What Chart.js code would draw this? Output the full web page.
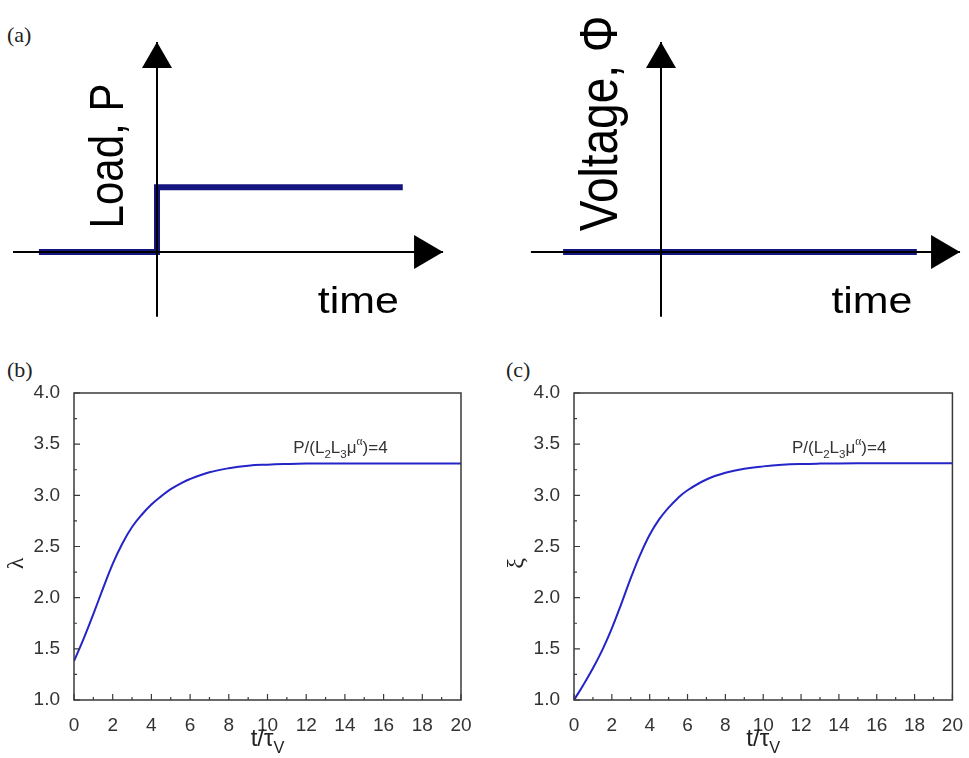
<!DOCTYPE html>
<html>
<head>
<meta charset="utf-8">
<script src="https://cdn.jsdelivr.net/npm/chart.js@4.4.0/dist/chart.umd.min.js"></script>
<style>
  body { margin: 0; background: #fff; width: 969px; height: 758px; position: relative; overflow: hidden; }
  canvas { position: absolute; }
  .tag { position: absolute; font-family: "Liberation Serif", "Times New Roman", serif; font-size: 22px; color: #222; line-height: 22px; }
</style>
</head>
<body>
<div class="tag" style="left:7px;top:24px">(a)</div>
<div class="tag" style="left:7px;top:359px">(b)</div>
<div class="tag" style="left:506px;top:359px">(c)</div>
<canvas id="loadChart" width="480" height="330" style="left:0;top:0"></canvas>
<canvas id="voltChart" width="479" height="330" style="left:490px;top:0"></canvas>
<canvas id="lambdaChart" width="485" height="408" style="left:0;top:350px"></canvas>
<canvas id="xiChart" width="469" height="408" style="left:500px;top:350px"></canvas>
<script>
// (a) schematic: load step and voltage, in arbitrary time units
const loadStepT = [-2.46, 0, 0, 5.12];
const loadStepP = [0, 0, 1.35, 1.35];
const loadAxisT = [-3.0, 5.96];
const loadAxisP = [-1.35, 4.375];
const voltStepT = [-2.04, 5.33];
const voltStepV = [0, 0];
const voltAxisT = [-2.71, 6.23];
const voltAxisV = [-1.35, 4.375];

// (b), (c) stretch response
const tRatio = [0, 0.5, 1, 1.5, 2, 2.5, 3, 3.5, 4, 4.5, 5, 5.5, 6, 7, 8, 9, 10, 11, 12, 13, 14, 16, 18, 20];
const lambda = [1.38, 1.60, 1.84, 2.09, 2.33, 2.53, 2.69, 2.81, 2.91, 2.99, 3.06, 3.115, 3.16,
                3.225, 3.265, 3.29, 3.30, 3.306, 3.31, 3.31, 3.31, 3.31, 3.31, 3.31];
const xi = [1.00, 1.15, 1.31, 1.49, 1.70, 1.94, 2.19, 2.42, 2.615, 2.765, 2.88, 2.975, 3.05,
            3.155, 3.22, 3.26, 3.283, 3.298, 3.306, 3.31, 3.312, 3.313, 3.313, 3.313];
const xTickValues = [0, 2, 4, 6, 8, 10, 12, 14, 16, 18, 20];
const yTickValues = [1.0, 1.5, 2.0, 2.5, 3.0, 3.5, 4.0];

const SANS = "'Liberation Sans', Arial, sans-serif";
const SERIF = "'Liberation Serif', 'Times New Roman', serif";
const STEP_BLUE = '#15157f';
const CURVE_BLUE = '#2424c8';

function pts(xs, ys) {
    return xs.map((x, i) => ({ x: x, y: ys[i] }));
}

// arrow heads at the end of axis datasets
const arrowHeads = {
    id: 'arrowHeads',
    afterDatasetsDraw(chart) {
        const ctx = chart.ctx;
        chart.data.datasets.forEach((ds, i) => {
            if (!ds.arrow) return;
            const el = chart.getDatasetMeta(i).data;
            const tip = el[el.length - 1], prev = el[el.length - 2];
            const a = Math.atan2(tip.y - prev.y, tip.x - prev.x);
            const len = ds.arrow.len, half = ds.arrow.half;
            ctx.save();
            ctx.translate(tip.x, tip.y);
            ctx.rotate(a);
            ctx.fillStyle = '#000';
            ctx.beginPath();
            ctx.moveTo(0, 0);
            ctx.lineTo(-len, -half);
            ctx.lineTo(-len, half);
            ctx.closePath();
            ctx.fill();
            ctx.restore();
        });
    }
};

// big labels on the schematics
const schemText = {
    id: 'schemText',
    afterDraw(chart, args, opts) {
        const ctx = chart.ctx, x = chart.scales.x, y = chart.scales.y;
        (opts.items || []).forEach(it => {
            ctx.save();
            ctx.translate(x.getPixelForValue(it.t), y.getPixelForValue(it.v));
            ctx.scale(1.16, 1);
            if (it.rotate) ctx.rotate(-Math.PI / 2);
            ctx.font = it.size + 'px ' + SANS;
            ctx.fillStyle = '#000';
            ctx.textAlign = it.align || 'left';
            ctx.textBaseline = it.baseline || 'alphabetic';
            ctx.fillText(it.text, 0, 0);
            ctx.restore();
        });
    }
};

function createSchematic(id, axisT, axisV, stepT, stepV, tMin, tMax, items) {
    new Chart(document.getElementById(id), {
        type: 'scatter',
        data: {
            datasets: [
                { data: pts(axisT, [0, 0]), borderColor: '#000', borderWidth: 2, arrow: { len: 29, half: 17 } },
                { data: pts([0, 0], axisV), borderColor: '#000', borderWidth: 2, arrow: { len: 26, half: 15 } },
                { data: pts(stepT, stepV), borderColor: STEP_BLUE, borderWidth: 6, borderJoinStyle: 'miter' }
            ]
        },
        options: {
            responsive: false,
            animation: false,
            showLine: true,
            elements: { point: { radius: 0 }, line: { tension: 0 } },
            datasets: { scatter: { clip: false } },
            layout: { padding: 0 },
            scales: {
                x: { type: 'linear', display: false, min: tMin, max: tMax },
                y: { type: 'linear', display: false, min: -1.625, max: 5.25 }
            },
            plugins: {
                legend: { display: false },
                tooltip: { enabled: false },
                schemText: { items: items }
            }
        },
        plugins: [arrowHeads, schemText]
    });
}

createSchematic('loadChart', loadAxisT, loadAxisP, loadStepT, loadStepP, -3.2708, 6.7292, [
    { text: 'Load, P', t: -0.98, v: 2.0, size: 42, rotate: true, align: 'center', baseline: 'middle' },
    { text: 'time', t: 3.35, v: -1.27, size: 37 }
]);
createSchematic('voltChart', voltAxisT, voltAxisV, voltStepT, voltStepV, -3.5625, 6.4167, [
    { text: 'Voltage, \u03A6', t: -1.23, v: 2.68, size: 46, rotate: true, align: 'center', baseline: 'middle' },
    { text: 'time', t: 3.55, v: -1.27, size: 37 }
]);

function richText(ctx, x, y, segs, size) {
    let cx = x;
    segs.forEach(s => {
        const fs = s.sub || s.sup ? size * 0.68 : size;
        ctx.font = fs + 'px ' + (s.serif ? SERIF : SANS);
        const dy = s.sub ? size * 0.3 : (s.sup ? -size * 0.45 : 0);
        ctx.fillText(s.t, cx, y + dy);
        cx += ctx.measureText(s.t).width;
    });
    return cx - x;
}

function measureRich(ctx, segs, size) {
    let w = 0;
    segs.forEach(s => {
        const fs = s.sub || s.sup ? size * 0.68 : size;
        ctx.font = fs + 'px ' + (s.serif ? SERIF : SANS);
        w += ctx.measureText(s.t).width;
    });
    return w;
}

// boxed frame, inward ticks, axis titles and note
const frameDecor = {
    id: 'frameDecor',
    afterDraw(chart, args, opts) {
        const { ctx, chartArea: a } = chart;
        const x = chart.scales.x, y = chart.scales.y;
        ctx.save();
        ctx.strokeStyle = '#3a3a3a';
        ctx.lineWidth = 1.5;
        ctx.strokeRect(a.left, a.top, a.right - a.left, a.bottom - a.top);
        ctx.lineWidth = 1.2;
        ctx.beginPath();
        for (let v = x.min; v <= x.max; v += 1) {
            const px = x.getPixelForValue(v);
            const len = v % 2 === 0 ? 6 : 3;
            ctx.moveTo(px, a.bottom);
            ctx.lineTo(px, a.bottom - len);
        }
        for (let v = y.min; v <= y.max + 1e-9; v += 0.25) {
            const py = y.getPixelForValue(v);
            const len = Math.abs(v * 2 - Math.round(v * 2)) < 1e-6 ? 6 : 3;
            ctx.moveTo(a.left, py);
            ctx.lineTo(a.left + len, py);
        }
        ctx.stroke();

        ctx.fillStyle = '#222';
        ctx.textBaseline = 'alphabetic';
        ctx.textAlign = 'left';

        // x title
        const xt = [{ t: 't/\u03C4' }, { t: 'V', sub: true }];
        const w = measureRich(ctx, xt, 24);
        richText(ctx, (a.left + a.right) / 2 - w / 2, a.bottom + 46, xt, 24);

        // y title, rotated
        ctx.save();
        ctx.translate(17, (a.top + a.bottom) / 2 + 17);
        ctx.rotate(-Math.PI / 2);
        ctx.textAlign = 'center';
        ctx.textBaseline = 'middle';
        ctx.font = '24px ' + SERIF;
        ctx.fillText(opts.yTitle, 0, 0);
        ctx.restore();

        // note
        ctx.fillStyle = '#333';
        richText(ctx, x.getPixelForValue(opts.noteT), y.getPixelForValue(opts.noteV), [
            { t: 'P/(L' }, { t: '2', sub: true }, { t: 'L' }, { t: '3', sub: true },
            { t: '\u03BC' }, { t: '\u03B1', sup: true, serif: true }, { t: ')=4' }
        ], 17);
        ctx.restore();
    }
};

function createResponseChart(id, values, yTitle, padRight, noteT) {
    new Chart(document.getElementById(id), {
        type: 'line',
        data: {
            datasets: [{
                data: pts(tRatio, values),
                borderColor: CURVE_BLUE,
                borderWidth: 2,
                pointRadius: 0,
                tension: 0.4,
                fill: false
            }]
        },
        options: {
            responsive: false,
            animation: false,
            layout: { padding: { top: 43, right: padRight, left: 0, bottom: 0 } },
            scales: {
                x: {
                    type: 'linear', min: 0, max: 20,
                    grid: { display: false }, border: { display: false },
                    afterBuildTicks: s => { s.ticks = xTickValues.map(v => ({ value: v })); },
                    afterFit: s => { s.height = 58; },
                    ticks: { color: '#333', padding: 6, maxRotation: 0, font: { family: SANS, size: 19 } }
                },
                y: {
                    type: 'linear', min: 1, max: 4,
                    grid: { display: false }, border: { display: false },
                    afterBuildTicks: s => { s.ticks = yTickValues.map(v => ({ value: v })); },
                    afterFit: s => { s.width = 74; },
                    ticks: {
                        color: '#333', padding: 6, font: { family: SANS, size: 19 },
                        callback: v => Number(v).toFixed(1)
                    }
                }
            },
            plugins: {
                legend: { display: false },
                tooltip: { enabled: false },
                frameDecor: { yTitle: yTitle, noteT: noteT, noteV: 3.415 }
            }
        },
        plugins: [frameDecor]
    });
}

createResponseChart('lambdaChart', lambda, '\u03BB', 24, 11.33);
createResponseChart('xiChart', xi, '\u03BE', 8, 11.52);
</script>
</body>
</html>
